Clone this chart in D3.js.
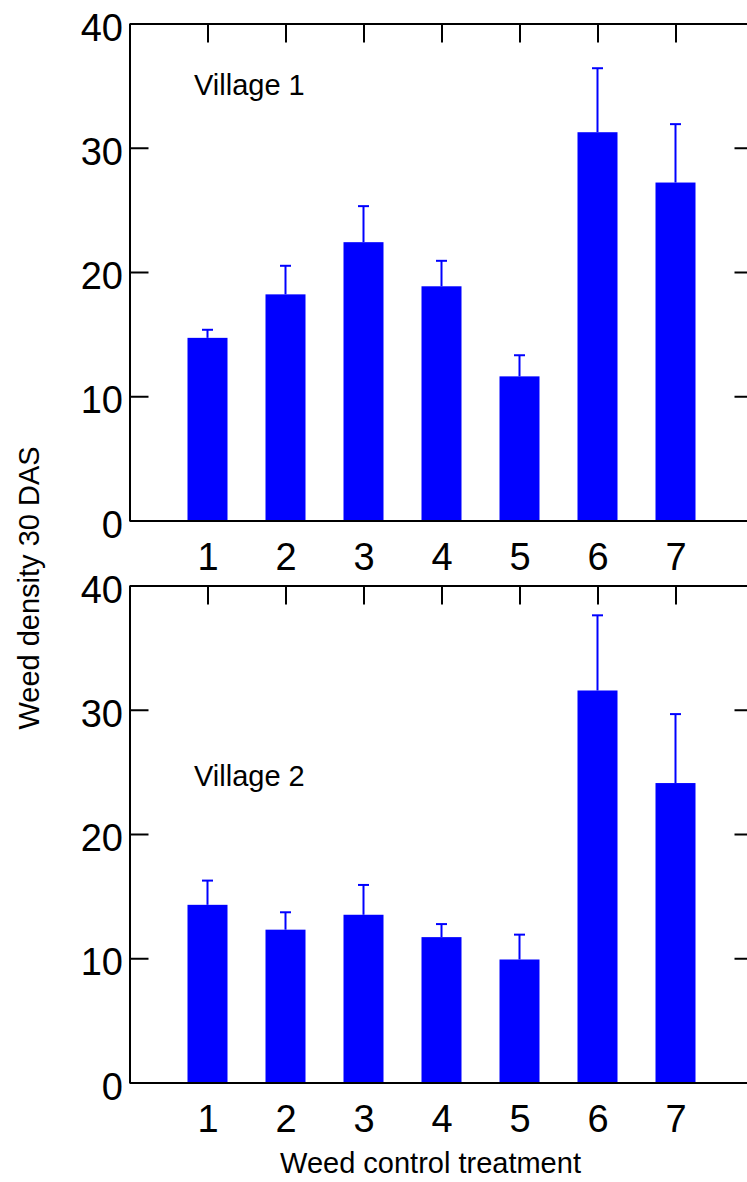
<!DOCTYPE html>
<html>
<head>
<meta charset="utf-8">
<script src="https://cdn.jsdelivr.net/npm/d3@7"></script>
<style>
  body { margin: 0; background: #fff; }
  svg { display: block; font-family: Arial, "Liberation Sans", sans-serif; }
</style>
</head>
<body>
<div id="chart-area"></div>
<script>
// weed density 30 DAS, by treatment
const treatments = [1, 2, 3, 4, 5, 6, 7];
const village1Mean = [14.7, 18.2, 22.4, 18.85, 11.6, 31.25, 27.2];
const village1Err = [0.65, 2.3, 2.9, 2.05, 1.7, 5.15, 4.7];
const village2Mean = [14.3, 12.3, 13.5, 11.7, 9.9, 31.55, 24.1];
const village2Err = [1.95, 1.4, 2.4, 1.05, 2.0, 6.05, 5.55];
const yTicks = [0, 10, 20, 30, 40];

const panels = [
    { name: "Village 1", mean: village1Mean, err: village1Err, top: 23.5, labelY: 95 },
    { name: "Village 2", mean: village2Mean, err: village2Err, top: 585.5, labelY: 786 }
];

const width = 747, height = 1182;
const plotH = 497;
const tick = 19;

let svg = d3.select("#chart-area").append("svg")
    .attr("width", width)
    .attr("height", height);

const x = d3.scaleLinear()
    .domain([0, 8])
    .range([129.5, 753.5]);

const barW = 40;

panels.forEach(function (p) {
    const y = d3.scaleLinear()
        .domain([0, 40])
        .range([p.top + plotH, p.top]);

    const g = svg.append("g");

    // bars
    g.selectAll("rect.bar")
        .data(treatments)
        .enter()
        .append("rect")
        .attr("class", "bar")
        .attr("x", (d) => x(d) - barW / 2)
        .attr("y", (d, i) => y(p.mean[i]))
        .attr("width", barW)
        .attr("height", (d, i) => y(0) - y(p.mean[i]))
        .attr("fill", "#0000ff");

    // error bars (upper only)
    g.selectAll("line.err")
        .data(treatments)
        .enter()
        .append("line")
        .attr("x1", (d) => x(d))
        .attr("x2", (d) => x(d))
        .attr("y1", (d, i) => y(p.mean[i]))
        .attr("y2", (d, i) => y(p.mean[i] + p.err[i]))
        .attr("stroke", "#0000ff")
        .attr("stroke-width", 2);

    g.selectAll("line.cap")
        .data(treatments)
        .enter()
        .append("line")
        .attr("x1", (d) => x(d) - 5.5)
        .attr("x2", (d) => x(d) + 5.5)
        .attr("y1", (d, i) => y(p.mean[i] + p.err[i]))
        .attr("y2", (d, i) => y(p.mean[i] + p.err[i]))
        .attr("stroke", "#0000ff")
        .attr("stroke-width", 2);

    // axes
    const left = g.append("g")
        .attr("transform", "translate(" + x(0) + ",0)")
        .call(d3.axisLeft(y).tickValues(yTicks).tickSizeInner(-tick).tickSizeOuter(0).tickPadding(6.5));
    left.selectAll("text").attr("dy", "0.44em").style("font-size", "38px");

    g.append("g")
        .attr("transform", "translate(" + x(8) + ",0)")
        .call(d3.axisRight(y).tickValues(yTicks).tickSizeInner(-tick).tickSizeOuter(0).tickFormat(""));

    g.append("g")
        .attr("transform", "translate(0," + y(40) + ")")
        .call(d3.axisTop(x).tickValues(treatments).tickSizeInner(-tick).tickSizeOuter(0).tickFormat(""));

    const bottom = g.append("g")
        .attr("transform", "translate(0," + y(0) + ")")
        .call(d3.axisBottom(x).tickValues(treatments).tickSize(0).tickPadding(22.5).tickFormat(d3.format("d")));
    bottom.selectAll("text").style("font-size", "38px");

    svg.selectAll(".domain, .tick line")
        .attr("stroke", "#000")
        .attr("stroke-width", 2);
    svg.selectAll(".tick text").attr("fill", "#000");

    g.append("text")
        .attr("x", 194)
        .attr("y", p.labelY)
        .style("font-size", "29px")
        .text(p.name);
});

// axis titles
svg.append("text")
    .attr("x", 430.5)
    .attr("y", 1173)
    .attr("text-anchor", "middle")
    .style("font-size", "29px")
    .text("Weed control treatment");

svg.append("text")
    .attr("transform", "translate(39,588) rotate(-90)")
    .attr("text-anchor", "middle")
    .style("font-size", "29px")
    .text("Weed density 30 DAS");
</script>
</body>
</html>
